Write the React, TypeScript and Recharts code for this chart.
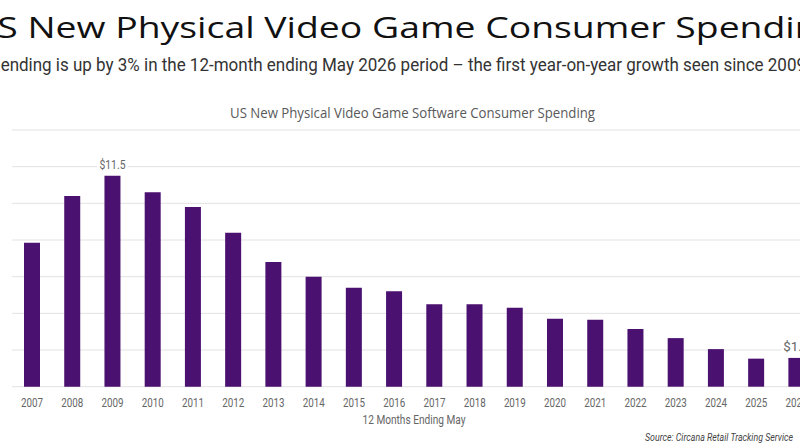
import React from 'react'
import { BarChart, Bar, XAxis, YAxis, CartesianGrid, LabelList } from 'recharts'

const years = ['2007', '2008', '2009', '2010', '2011', '2012', '2013', '2014', '2015', '2016', '2017', '2018', '2019', '2020', '2021', '2022', '2023', '2024', '2025', '2026']
const spending = [7.85, 10.4, 11.5, 10.6, 9.8, 8.4, 6.8, 6.0, 5.4, 5.2, 4.5, 4.5, 4.3, 3.7, 3.65, 3.15, 2.65, 2.05, 1.53, 1.57]
const labeledYears = ['2009', '2026']
const labelText = ['$11.5', '$1.6']
const yTicks = [0, 2, 4, 6, 8, 10, 12, 14]

const data = years.map((year, i) => ({ year, value: spending[i] }))

const BAR = '#4b1170'
const TEXT = '#666666'

const YearTick = ({ x, y, payload }: any) => (
  <text
    x={x}
    y={y + 20}
    textAnchor="middle"
    fontFamily="Roboto"
    fontSize={13}
    fill={TEXT}
    textLength={22}
    lengthAdjust="spacingAndGlyphs"
  >
    {payload.value}
  </text>
)

const ValueLabel = ({ x, y, width, index }: any) => {
  const pos = labeledYears.indexOf(years[index])
  if (pos < 0) return null
  const cx = x + width / 2
  return (
    <g>
      <rect x={cx - 15} y={y - 20} width={30} height={16} fill="#fff" />
      <text
        x={cx}
        y={y - 7}
        textAnchor="middle"
        fontFamily="Roboto"
        fontSize={13}
        fill={TEXT}
        textLength={26}
        lengthAdjust="spacingAndGlyphs"
      >
        {labelText[pos]}
      </text>
    </g>
  )
}

export default function App() {
  return (
    <div style={{ position: 'absolute', left: 0, top: 0, width: 800, height: 445, overflow: 'hidden', background: '#fff' }}>
      <div style={{ position: 'absolute', left: 0, top: 0 }}>
        <BarChart width={830} height={445} data={data} margin={{ top: 130, right: 13.4, bottom: 28.3, left: 12 }}>
          <CartesianGrid vertical={false} stroke="#e2e2e2" />
          <XAxis
            dataKey="year"
            height={30}
            axisLine={false}
            tickLine={false}
            tickSize={0}
            tickMargin={0}
            interval={0}
            tick={<YearTick />}
          />
          <YAxis hide domain={[0, 14]} ticks={yTicks} />
          <Bar dataKey="value" fill={BAR} barSize={16} isAnimationActive={false}>
            <LabelList dataKey="value" content={<ValueLabel />} />
          </Bar>
        </BarChart>
      </div>
      <svg width={800} height={445} style={{ position: 'absolute', left: 0, top: 0, pointerEvents: 'none' }}>
        <text x={-30} y={38} fontFamily="Open Sans" fontSize={30} fill="#111" textLength={868} lengthAdjust="spacingAndGlyphs">
          US New Physical Video Game Consumer Spending
        </text>
        <text x={-19} y={71} fontFamily="Roboto" fontSize={19} fill="#333" textLength={825} lengthAdjust="spacingAndGlyphs">
          Spending is up by 3% in the 12-month ending May 2026 period – the first year-on-year growth seen since 2009
        </text>
        <text x={412.5} y={118} textAnchor="middle" fontFamily="Open Sans" fontSize={14} fill="#595959" textLength={365} lengthAdjust="spacingAndGlyphs">
          US New Physical Video Game Software Consumer Spending
        </text>
        <text x={414} y={424} textAnchor="middle" fontFamily="Roboto" fontSize={13} fill={TEXT} textLength={103} lengthAdjust="spacingAndGlyphs">
          12 Months Ending May
        </text>
        <text x={793} y={441} textAnchor="end" fontFamily="Roboto" fontStyle="italic" fontSize={11} fill="#444" textLength={148} lengthAdjust="spacingAndGlyphs">
          Source: Circana Retail Tracking Service
        </text>
      </svg>
    </div>
  )
}
